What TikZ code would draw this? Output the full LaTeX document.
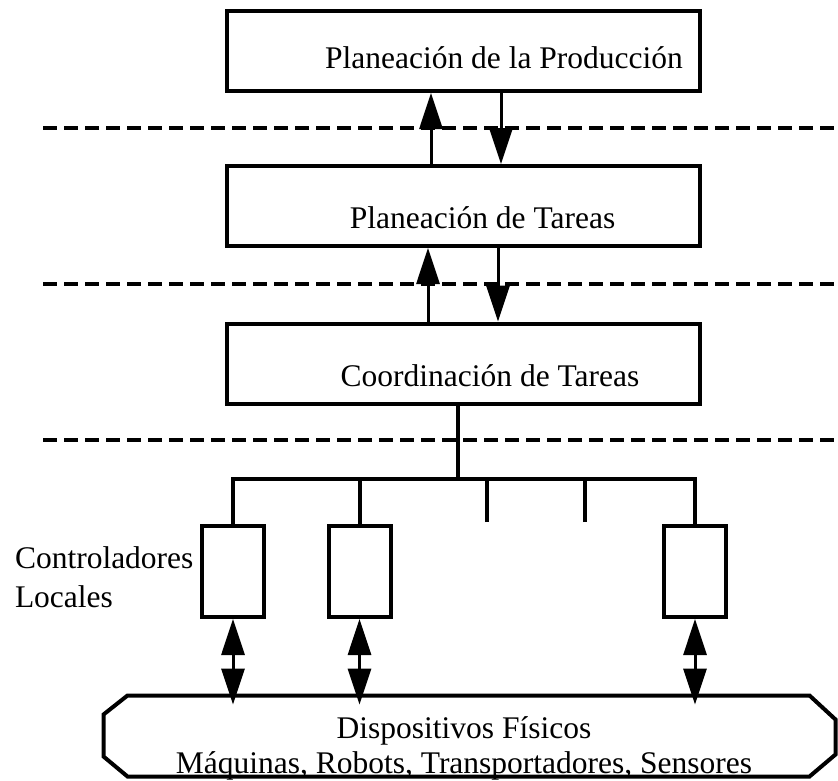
\documentclass[tikz,border=0pt]{standalone}
\usepackage{fontspec}
\setmainfont{Liberation Serif}
\usetikzlibrary{arrows.meta}
\tikzset{>={Triangle[length=36pt,width=23pt]}}

\begin{document}
\begin{tikzpicture}[x=1pt,y=-1pt,line width=4pt,
    font=\fontsize{31.5}{35}\selectfont,
    level/.style={draw,minimum width=473pt,minimum height=80pt,inner sep=0pt},
    ctrl/.style={draw,minimum width=62pt,minimum height=91pt,inner sep=0pt},
    sepline/.style={dash pattern=on 14pt off 7pt,line width=4pt},
    link/.style={line width=3pt}]
  \useasboundingbox (0,0) rectangle (838,780);

  \foreach \y in {128,284,440}
    \draw [sepline] (43,\y) -- (838,\y);

  \node [level,label={[anchor=base,xshift=40.5pt,yshift=-7pt]center:Planeación de la Producción}]
    (prod) at (463.5,51) {};

  \node [level,label={[anchor=base,xshift=19pt,yshift=-12pt]center:Planeación de Tareas}]
    (tareas) at (463.5,206) {};

  \node [level,label={[anchor=base,xshift=26.5pt,yshift=-12pt]center:Coordinación de Tareas}]
    (coord) at (463.5,363.5) {};

  \draw [link,->] ([xshift=-32.5pt]tareas.north) -- ([xshift=-32.5pt]prod.south);
  \draw [link,->] ([xshift=37.5pt]prod.south) -- ([xshift=37.5pt]tareas.north);
  \draw [link,->] ([xshift=-35.5pt]coord.north) -- ([xshift=-35.5pt]tareas.south);
  \draw [link,->] ([xshift=34.5pt]tareas.south) -- ([xshift=34.5pt]coord.north);

  \node [ctrl] (ctl1) at (233,571.5) {};
  \node [ctrl] (ctl2) at (359.5,571.5) {};
  \node [ctrl] (ctl3) at (695,571.5) {};

  \node [anchor=west,align=left,inner sep=0pt,font=\fontsize{31.5}{39}\selectfont]
    (ctllbl) at (13,577) {Controladores\\Locales};

  \coordinate (bus) at (458,479);
  \coordinate (t1) at (487,522);
  \coordinate (t2) at (585,522);

  \draw ([xshift=-5.5pt]coord.south) -- (bus);
  \draw (ctl1.north) -- (ctl1.north |- bus) -- (ctl3.north |- bus) -- (ctl3.north);
  \draw (ctl2.north) -- (ctl2.north |- bus);
  \draw (t1) -- (t1 |- bus);
  \draw (t2) -- (t2 |- bus);

  \node [minimum width=732pt,minimum height=81pt,inner sep=0pt,outer sep=0pt,
    label={[align=center,xshift=-5.5pt,yshift=-12pt]center:Dispositivos Físicos\\Máquinas, Robots, Transportadores, Sensores}]
    (dev) at (469.5,736) {};

  \draw ([xshift=24pt]dev.north west) -- ([xshift=-26pt]dev.north east)
    -- ([yshift=-24pt]dev.north east) -- ([yshift=22pt]dev.south east)
    -- ([xshift=-26pt]dev.south east) -- ([xshift=24pt]dev.south west)
    -- ([yshift=20pt]dev.south west) -- ([yshift=-19pt]dev.north west) -- cycle;

  \coordinate (devtop) at ([yshift=-9pt]dev.north);

  \draw [link,<->] (ctl1.south) -- (ctl1.south |- devtop);
  \draw [link,<->] (ctl2.south) -- (ctl2.south |- devtop);
  \draw [link,<->] (ctl3.south) -- (ctl3.south |- devtop);
\end{tikzpicture}
\end{document}
